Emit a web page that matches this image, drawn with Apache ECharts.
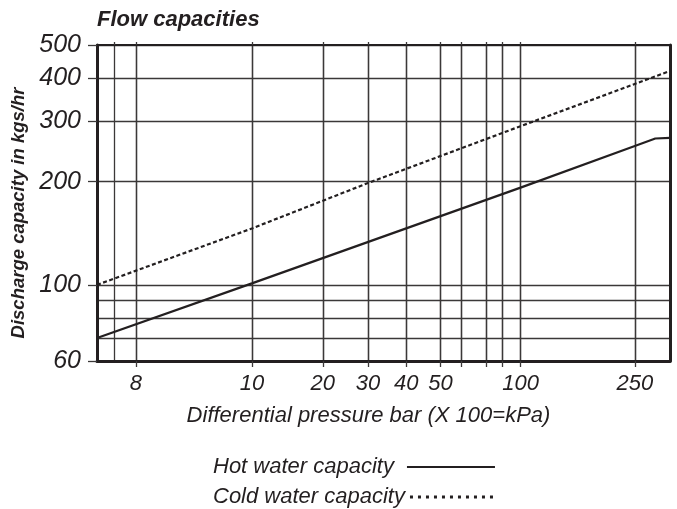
<!DOCTYPE html>
<html>
<head>
<meta charset="utf-8">
<script src="https://cdn.jsdelivr.net/npm/echarts@6/dist/echarts.min.js"></script>
<style>
  html, body { margin: 0; padding: 0; background: #fff; }
  #chart { width: 677px; height: 509px; }
</style>
</head>
<body>
<div id="chart"></div>
<script>
// the pressure axis of the original sheet is hand drawn (not a true log scale):
// gridline pressures and where each one sits along the axis, 0..100
const xGrid = [6.5, 7, 8, 10, 20, 30, 40, 50, 60, 70, 80, 100, 250, 300];
const xGridPos = [0, 3.09, 6.8, 27.03, 39.4, 47.29, 53.98, 59.93, 63.64, 68.0, 70.65, 73.92, 93.86, 100];
const xLabels = [8, 10, 20, 30, 40, 50, 100, 250];
const xTicks = [8, 10, 20, 30, 40, 50, 60, 70, 80, 100, 250];
const xLinesOnly = [7];

const yLabels = [60, 100, 200, 300, 400, 500];
const yLinesOnly = [70, 80, 90];

// discharge capacity (kgs/hr) against differential pressure (bar)
const hotPressure = [6.5, 10, 100, 250, 278, 300];
const hotCapacity = [70, 101, 192, 254, 267, 268];
const coldPressure = [6.5, 10, 30, 100, 300];
const coldCapacity = [100, 146, 198, 290, 420];

const FONT = '"Liberation Sans", Arial, sans-serif';
const INK = '#231f20';
const GRIDC = '#3b3838';

function warp(p) {
  for (let i = 1; i < xGrid.length; i++) {
    if (p <= xGrid[i]) {
      let t = Math.log(p / xGrid[i - 1]) / Math.log(xGrid[i] / xGrid[i - 1]);
      return xGridPos[i - 1] + t * (xGridPos[i] - xGridPos[i - 1]);
    }
  }
  return 100;
}

function pressureLabel(v) {
  for (let i = 0; i < xLabels.length; i++) {
    if (Math.abs(warp(xLabels[i]) - v) < 0.01) return String(xLabels[i]);
  }
  return '';
}

let myChart = echarts.init(document.getElementById('chart'));

let options = {
  animation: false,
  title: {
    text: 'Flow capacities',
    left: 92,
    top: 4,
    textStyle: { fontFamily: FONT, fontSize: 22, fontStyle: 'italic', fontWeight: 'bold', color: INK }
  },
  grid: {
    left: 97,
    right: 7,
    top: 45,
    bottom: 148,
    outerBoundsMode: 'none',
    containLabel: false
  },
  legend: [
    {
      data: ['Hot water capacity'],
      left: 208,
      top: 451,
      align: 'right',
      itemWidth: 88,
      itemHeight: 20,
      itemStyle: { opacity: 0 },
      textStyle: { fontFamily: FONT, fontSize: 22, fontStyle: 'italic', color: INK, padding: [0, 8, 0, 0] }
    },
    {
      data: [{ name: 'Cold water capacity', lineStyle: { type: [3, 5], width: 3, color: INK } }],
      left: 208,
      top: 481,
      align: 'right',
      itemWidth: 88,
      itemHeight: 20,
      itemStyle: { opacity: 0 },
      textStyle: { fontFamily: FONT, fontSize: 22, fontStyle: 'italic', color: INK }
    }
  ],
  xAxis: [
    {
      type: 'value',
      min: 0,
      max: 100,
      position: 'bottom',
      name: 'Differential pressure bar (X 100=kPa)',
      nameLocation: 'middle',
      nameGap: 44,
      nameTextStyle: { fontFamily: FONT, fontSize: 22, fontStyle: 'italic', color: INK, padding: [0, 30, 0, 0] },
      axisLine: { show: true, onZero: false, lineStyle: { color: INK, width: 3 } },
      axisTick: { show: true, customValues: xTicks.map(warp), length: 6, lineStyle: { color: GRIDC, width: 1.3 } },
      axisLabel: {
        customValues: xLabels.map(warp),
        formatter: pressureLabel,
        margin: 12,
        fontFamily: FONT, fontSize: 22, fontStyle: 'italic', color: INK
      },
      splitLine: { show: true, lineStyle: { color: GRIDC, width: 1.3 } }
    },
    {
      type: 'value',
      min: 0,
      max: 100,
      position: 'top',
      axisLine: { show: true, onZero: false, lineStyle: { color: INK, width: 2 } },
      axisTick: { show: true, customValues: xLinesOnly.concat(xTicks).map(warp), length: 3, lineStyle: { color: GRIDC, width: 1.3 } },
      axisLabel: { show: false },
      splitLine: { show: true, lineStyle: { color: GRIDC, width: 1.3 } }
    }
  ],
  yAxis: [
    {
      type: 'log',
      logBase: 10,
      min: 60,
      max: 500,
      position: 'left',
      name: 'Discharge capacity in kgs/hr',
      nameLocation: 'middle',
      nameGap: 68,
      nameTextStyle: { fontFamily: FONT, fontSize: 18.5, fontStyle: 'italic', fontWeight: 'bold', color: INK, padding: [0, 20, 0, 0] },
      axisLine: { show: true, onZero: false, lineStyle: { color: INK, width: 3 } },
      axisTick: { show: true, customValues: yLabels, length: 9, lineStyle: { color: GRIDC, width: 1.3 } },
      axisLabel: { customValues: yLabels, margin: 16, fontFamily: FONT, fontSize: 25, fontStyle: 'italic', color: INK },
      splitLine: { show: true, lineStyle: { color: GRIDC, width: 1.3 } }
    },
    {
      type: 'log',
      logBase: 10,
      min: 60,
      max: 500,
      position: 'right',
      axisLine: { show: true, onZero: false, lineStyle: { color: INK, width: 3 } },
      axisTick: { show: false, customValues: yLinesOnly },
      axisLabel: { show: false },
      splitLine: { show: true, lineStyle: { color: GRIDC, width: 1.3 } }
    }
  ],
  series: [
    {
      name: 'Hot water capacity',
      type: 'line',
      xAxisIndex: 0,
      yAxisIndex: 0,
      symbol: 'none',
      data: hotPressure.map((p, i) => [warp(p), hotCapacity[i]]),
      lineStyle: { color: INK, width: 2.2 },
      itemStyle: { color: INK },
      z: 5
    },
    {
      name: 'Cold water capacity',
      type: 'line',
      xAxisIndex: 0,
      yAxisIndex: 0,
      symbol: 'none',
      data: coldPressure.map((p, i) => [warp(p), coldCapacity[i]]),
      lineStyle: { color: INK, width: 2.2, type: [4, 2.5] },
      itemStyle: { color: INK },
      z: 5
    }
  ]
};

myChart.setOption(options);
</script>
</body>
</html>
